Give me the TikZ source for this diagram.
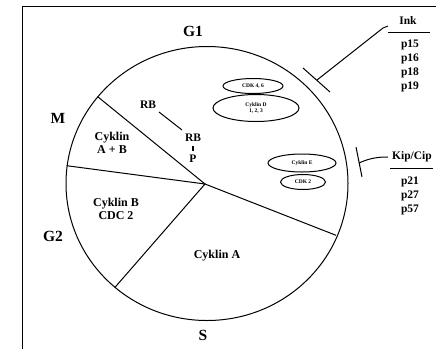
\documentclass[tikz,border=0pt]{standalone}
\usepackage{fontspec}
\setmainfont{Liberation Serif}
\usetikzlibrary{shapes.geometric}
\begin{document}
\begin{tikzpicture}[x=1pt,y=-1pt,line width=1pt,
  lbl/.style={font=\bfseries\fontsize{15.5}{15.5}\selectfont,inner sep=0pt},
  txt/.style={font=\bfseries\fontsize{12}{13.5}\selectfont,align=center,inner sep=0pt},
  ptxt/.style={font=\bfseries\fontsize{11.5}{14}\selectfont,align=center,inner sep=0pt},
  oval/.style={draw,ellipse,inner sep=0pt,align=center,font=\bfseries\fontsize{5.5}{6}\selectfont}]
\useasboundingbox (0,0) rectangle (436,349);
\fill[white] (0,0) rectangle (436,349);
\draw[line width=0.8pt] (22,349) -- (22,6) -- (436,6);
% circle
\draw (207,183.5) ellipse [x radius=141, y radius=137];
\coordinate (hub) at (205,184);
\coordinate (ul) at (97.7,96.7);
\coordinate (lf) at (66.7,165.7);
\coordinate (bl) at (115,287.3);
\coordinate (rt) at (336,235.3);
\draw (ul) -- (hub) -- (rt);
\draw (lf) -- (hub) -- (bl);
% phase labels
\node[lbl] (g1) at (193,31) {G1};
\node[lbl] (m) at (58,118) {M};
\node[lbl] (g2) at (53,236) {G2};
\node[lbl] (s) at (203,335) {S};
% sector texts
\node[txt] (ab) at (112,143) {Cyklin\\A + B};
\node[txt] (bc) at (116,209) {Cyklin B\\CDC 2};
\node[txt] (ca) at (217,256) {Cyklin A};
% RB
\node[ptxt] (rb1) at (148,105) {RB};
\node[ptxt] (rb2) at (193,138) {RB};
\node[ptxt] (pp) at (193,159) {P};
\draw (159,112) -- (182,130);
\draw[line width=1.2pt] (193,146) -- (193,151);
% ovals
\node[oval,minimum width=86,minimum height=27] (cd) at (256,108) {Cyklin D\\1, 2, 3};
\node[oval,minimum width=60,minimum height=15,fill=white] (c46) at (253,86) {CDK 4, 6};
\node[oval,minimum width=45,minimum height=15] (c2) at (303,182) {CDK 2};
\node[oval,minimum width=68,minimum height=18,fill=white] (ce) at (302,163) {Cyklin E};
% Ink
\node[ptxt] (ink) at (408,21) {Ink};
\draw (388,32) -- (430,32);
\node[ptxt] (inkl) at (410,66) {p15\\p16\\p18\\p19};
\coordinate (b1a) at (303,68);
\coordinate (b1b) at (330,92);
\draw (b1a) -- (b1b);
\coordinate (b1m) at (317,80);
\draw (b1m) -- (383,28) -- (388,26);
% Kip/Cip
\node[ptxt] (kip) at (412,157) {Kip/Cip};
\draw (390,168) -- (433,168);
\node[ptxt] (kipl) at (410,196) {p21\\p27\\p57};
\coordinate (b2a) at (356,147);
\coordinate (b2b) at (362,177);
\draw (b2a) -- (b2b);
\coordinate (b2m) at (359,163);
\draw (b2m) .. controls (370,158) and (378,157) .. (388,157);
\end{tikzpicture}
\end{document}
